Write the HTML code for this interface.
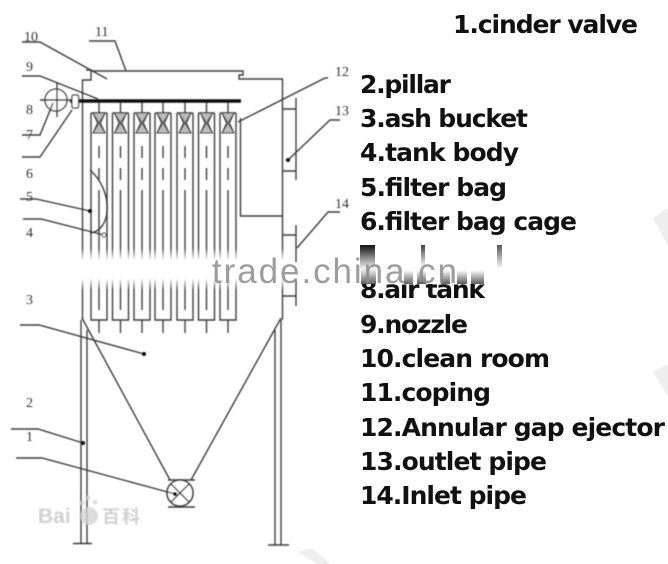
<!DOCTYPE html>
<html><head><meta charset="utf-8"><style>
html,body{margin:0;padding:0;background:#fff}
svg{display:block;width:668px;height:564px}
.d{fill:none;stroke:#3c3c3c;stroke-width:1.4}
.l{font-family:"DejaVu Sans",sans-serif;font-weight:bold;font-size:25px;fill:#111}
.n{font-family:"Liberation Serif",serif;font-size:14px;fill:#333}
</style></head><body>
<svg xmlns="http://www.w3.org/2000/svg" width="668" height="564" viewBox="0 0 668 564">
<defs>
<filter id="b2"><feGaussianBlur stdDeviation=".8"/></filter>
<filter id="s" x="-5%" y="-5%" width="110%" height="110%"><feGaussianBlur stdDeviation=".45"/></filter>
<linearGradient id="band" x1="0" y1="0" x2="0" y2="1"><stop offset="0" stop-color="#fff" stop-opacity="0"/><stop offset=".3" stop-color="#fff" stop-opacity="1"/><stop offset=".72" stop-color="#fff" stop-opacity="1"/><stop offset="1" stop-color="#fff" stop-opacity="0"/></linearGradient>
<linearGradient id="down" x1="0" y1="0" x2="0" y2="1"><stop offset="0" stop-color="#111"/><stop offset=".15" stop-color="#333"/><stop offset="1" stop-color="#333" stop-opacity="0"/></linearGradient>
<linearGradient id="up" x1="0" y1="1" x2="0" y2="0"><stop offset="0" stop-color="#333"/><stop offset="1" stop-color="#333" stop-opacity="0"/></linearGradient>
<g id="bag"><path class="d" d="M0 113H16M0 113V320H16V113M8 100V113M8 320V333M8 146V158M8 168V180M8 190V310"/><path d="M2 113H14L9.500 123L14 133H2L6.500 123Z" fill="#bbb" stroke="#3c3c3c" stroke-width="1"/><path d="M2 113L14 133M14 113L2 133" stroke="#3c3c3c" stroke-width=".9"/></g>
</defs>
<rect width="668" height="564" fill="#fff"/>
<g fill="#eee"><path d="M297 552L312 548L330 564H318Z"/><path d="M653 218L668 208V246Z"/><path d="M653 372L668 364V396Z"/></g>
<g filter="url(#s)">
<path class="d" d="M82.500 320V80H91V70H86M91 71H243V75H239V79H282.500V320"/>
<use href="#bag" x="91"/><use href="#bag" x="112.500"/><use href="#bag" x="134"/><use href="#bag" x="155"/><use href="#bag" x="177"/><use href="#bag" x="198.500"/><use href="#bag" x="220"/>
<path d="M70 101H241" stroke="#111" stroke-width="3.400" fill="none"/>
<circle cx="56" cy="100" r="11" fill="#fff" stroke="#333" stroke-width="1.300"/>
<path class="d" d="M40 100H72M57 82V117"/>
<rect x="72" y="95" width="6.500" height="13" rx="1.500" fill="#fff" stroke="#333" stroke-width="1.200"/>
<path class="d" d="M282 109H296M296 98V180M282 171H296M240.500 118V216H282M282 235H296M296 225V262M282 296H296M296 280V306"/>
<path class="d" d="M82 318L170 480M281 318L191 480M168 480H195M168 507H195M81 320V543.500M87 330V543.500M275 330V545M281 320V545M73 543.500H92M268 545H289"/>
<circle cx="180" cy="493" r="13" fill="#fff" stroke="#333" stroke-width="1.600"/>
<path class="d" d="M171 484L189 502M189 484L171 502"/>
<path class="d" d="M22 42H40L107 79M89 41H115L126 71M22 76H40L98 99M22 135H40L53 103M22 157H40L72 110M20 199H36L90 211M23 219H41L104 235M328 78H325L238 122M340 120H330L288 160M340 212H328L297 248M20 325H39L144 354M11 429H38L83 443M16 458H42L175 494M90 170C113 190 113 230 90 233"/>
<g fill="#111"><circle cx="288" cy="160" r="2"/><circle cx="90" cy="211" r="2"/><circle cx="144" cy="354" r="2"/><circle cx="83" cy="443" r="2"/><circle cx="175" cy="494" r="2"/></g>
<circle cx="104" cy="235" r="2" fill="#fff" stroke="#333"/>
<g class="n">
<text x="24" y="41">10</text><text x="95" y="36">11</text><text x="26" y="71">9</text><text x="26" y="114">8</text><text x="26" y="139">7</text><text x="26" y="178">6</text><text x="26" y="201">5</text><text x="26" y="237">4</text><text x="335" y="76">12</text><text x="335" y="115">13</text><text x="335" y="208">14</text><text x="26" y="304">3</text><text x="26" y="407">2</text><text x="26" y="441">1</text>
</g>
</g>
<g class="l">
<text x="453" y="33" textLength="185">1.cinder valve</text>
<text x="360" y="93" textLength="91">2.pillar</text>
<text x="360" y="127" textLength="168">3.ash bucket</text>
<text x="360" y="161" textLength="159">4.tank body</text>
<text x="360" y="196" textLength="147">5.filter bag</text>
<text x="360" y="230" textLength="217">6.filter bag cage</text>
<text x="360" y="264" textLength="150">7.solenoid</text>
<text x="360" y="298" textLength="125">8.air tank</text>
<text x="360" y="333" textLength="108">9.nozzle</text>
<text x="360" y="367" textLength="190">10.clean room</text>
<text x="360" y="401" textLength="131">11.coping</text>
<text x="360" y="436" textLength="305">12.Annular gap ejector</text>
<text x="360" y="470" textLength="187">13.outlet pipe</text>
<text x="360" y="504" textLength="167">14.Inlet pipe</text>
</g>
<rect x="76" y="248" width="215" height="42" fill="url(#band)"/>
<rect x="356" y="241" width="160" height="43" fill="#fff"/>
<rect x="360" y="245" width="15" height="25" fill="url(#down)"/>
<rect x="421" y="245" width="4" height="22" fill="url(#down)" opacity=".8"/>
<rect x="497" y="245" width="5" height="24" fill="url(#down)" opacity=".7"/>
<g fill="url(#up)" opacity=".8"><rect x="361" y="268" width="15" height="16"/><rect x="404" y="270" width="9" height="14"/><rect x="417" y="270" width="9" height="14"/><rect x="441" y="270" width="9" height="14"/><rect x="457" y="270" width="10" height="14"/><rect x="471" y="270" width="13" height="14"/></g>
<text x="212" y="283" font-family="Liberation Sans,sans-serif" font-size="35" fill="#8c8c8c" opacity=".85" textLength="245">trade.china.cn</text>
<g filter="url(#b2)" opacity=".8">
<text x="38" y="523" font-family="Liberation Sans,sans-serif" font-weight="bold" font-size="21" fill="#c4c4c4">Bai</text>
<text x="102" y="523" font-family="Liberation Sans,'Noto Sans CJK SC',sans-serif" font-weight="bold" font-size="18" fill="#c4c4c4" textLength="38">&#30334;&#31185;</text>
<circle cx="89" cy="516" r="9" fill="#d4d4d4"/><circle cx="82" cy="503" r="2.500" fill="#d4d4d4"/><circle cx="88" cy="498" r="2.500" fill="#d4d4d4"/><circle cx="95" cy="502" r="2.500" fill="#d4d4d4"/>
</g>
</svg>
</body></html>
